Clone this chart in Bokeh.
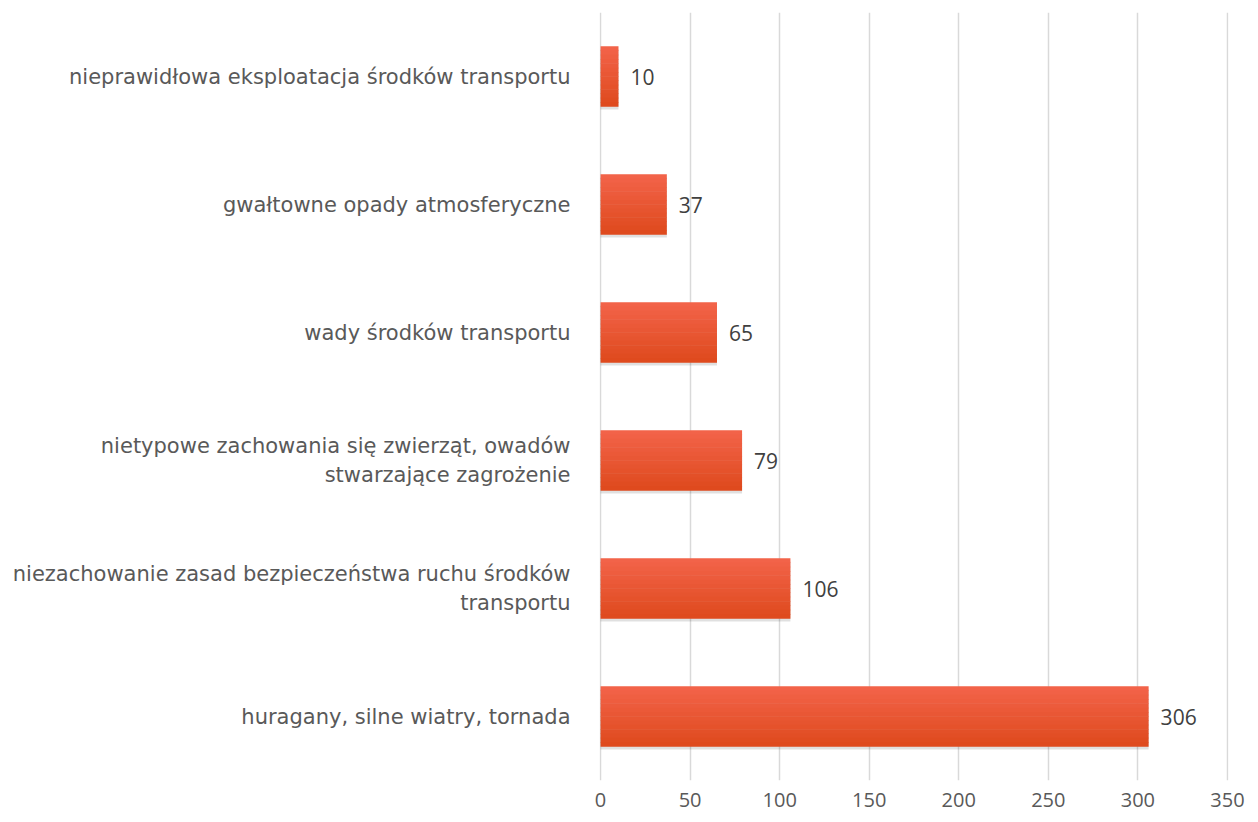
from bokeh.plotting import figure
from bokeh.models import ColumnDataSource, FactorRange, Range1d, FixedTicker
from bokeh.transform import dodge
from bokeh.core.properties import value
from bokeh.embed import file_html
from bokeh.resources import INLINE

categories = [
    "huragany, silne wiatry, tornada",
    "niezachowanie zasad bezpieczeństwa ruchu środków\ntransportu",
    "nietypowe zachowania się zwierząt, owadów\nstwarzające zagrożenie",
    "wady środków transportu",
    "gwałtowne opady atmosferyczne",
    "nieprawidłowa eksploatacja środków transportu",
]
values = [306, 106, 79, 65, 37, 10]
x_ticks = [0, 50, 100, 150, 200, 250, 300, 350]

src = ColumnDataSource(dict(cat=categories, val=values, lbl=[str(v) for v in values]))

p = figure(width=1250, height=814, output_backend="svg", toolbar_location=None,
           y_range=FactorRange(*categories, range_padding=0),
           x_range=Range1d(-0.6, 350.6),
           min_border_left=599, min_border_right=22, min_border_top=12, min_border_bottom=34)
p.outline_line_color = None
p.background_fill_color = "white"

bar_h = 0.47
# soft shadow
p.hbar(y=dodge("cat", -0.022, range=p.y_range), right="val", left=0, height=bar_h,
       source=src, fill_color="#000000", fill_alpha=0.12, line_color=None)

# gradient by slices (top lighter, bottom darker)
k = 14
top = (242, 99, 73)
bot = (223, 74, 30)
for i in range(k):
    t = i / (k - 1)
    col = "#%02x%02x%02x" % tuple(round(top[j] + (bot[j] - top[j]) * t) for j in range(3))
    off = bar_h / 2 - (i + 0.5) * bar_h / k
    p.hbar(y=dodge("cat", off, range=p.y_range), right="val", left=0,
           height=bar_h / k * 1.12, source=src, fill_color=col, line_color=None)

p.text(x="val", y="cat", text="lbl", source=src, x_offset=12,
       text_baseline="middle", text_align="left",
       text_font=value("Open Sans"), text_font_size="21px", text_color="#404040")

p.xaxis.ticker = FixedTicker(ticks=x_ticks)
p.xaxis.axis_line_color = None
p.xaxis.major_tick_line_color = None
p.xaxis.minor_tick_line_color = None
p.xaxis.major_label_standoff = 6
p.xaxis.major_label_text_font = "Open Sans"
p.xaxis.major_label_text_font_size = "20px"
p.xaxis.major_label_text_color = "#595959"

p.yaxis.axis_line_color = None
p.yaxis.major_tick_line_color = None
p.yaxis.minor_tick_line_color = None
p.yaxis.major_label_standoff = 23
p.yaxis.major_label_text_font = "DejaVu Sans"
p.yaxis.major_label_text_font_size = "21px"
p.yaxis.major_label_text_line_height = 1.2
p.yaxis.major_label_text_color = "#595959"

p.ygrid.grid_line_color = None
p.xgrid.grid_line_color = "#d9d9d9"
p.xgrid.grid_line_width = 1.5

open("out.html", "w").write(file_html(p, INLINE))
